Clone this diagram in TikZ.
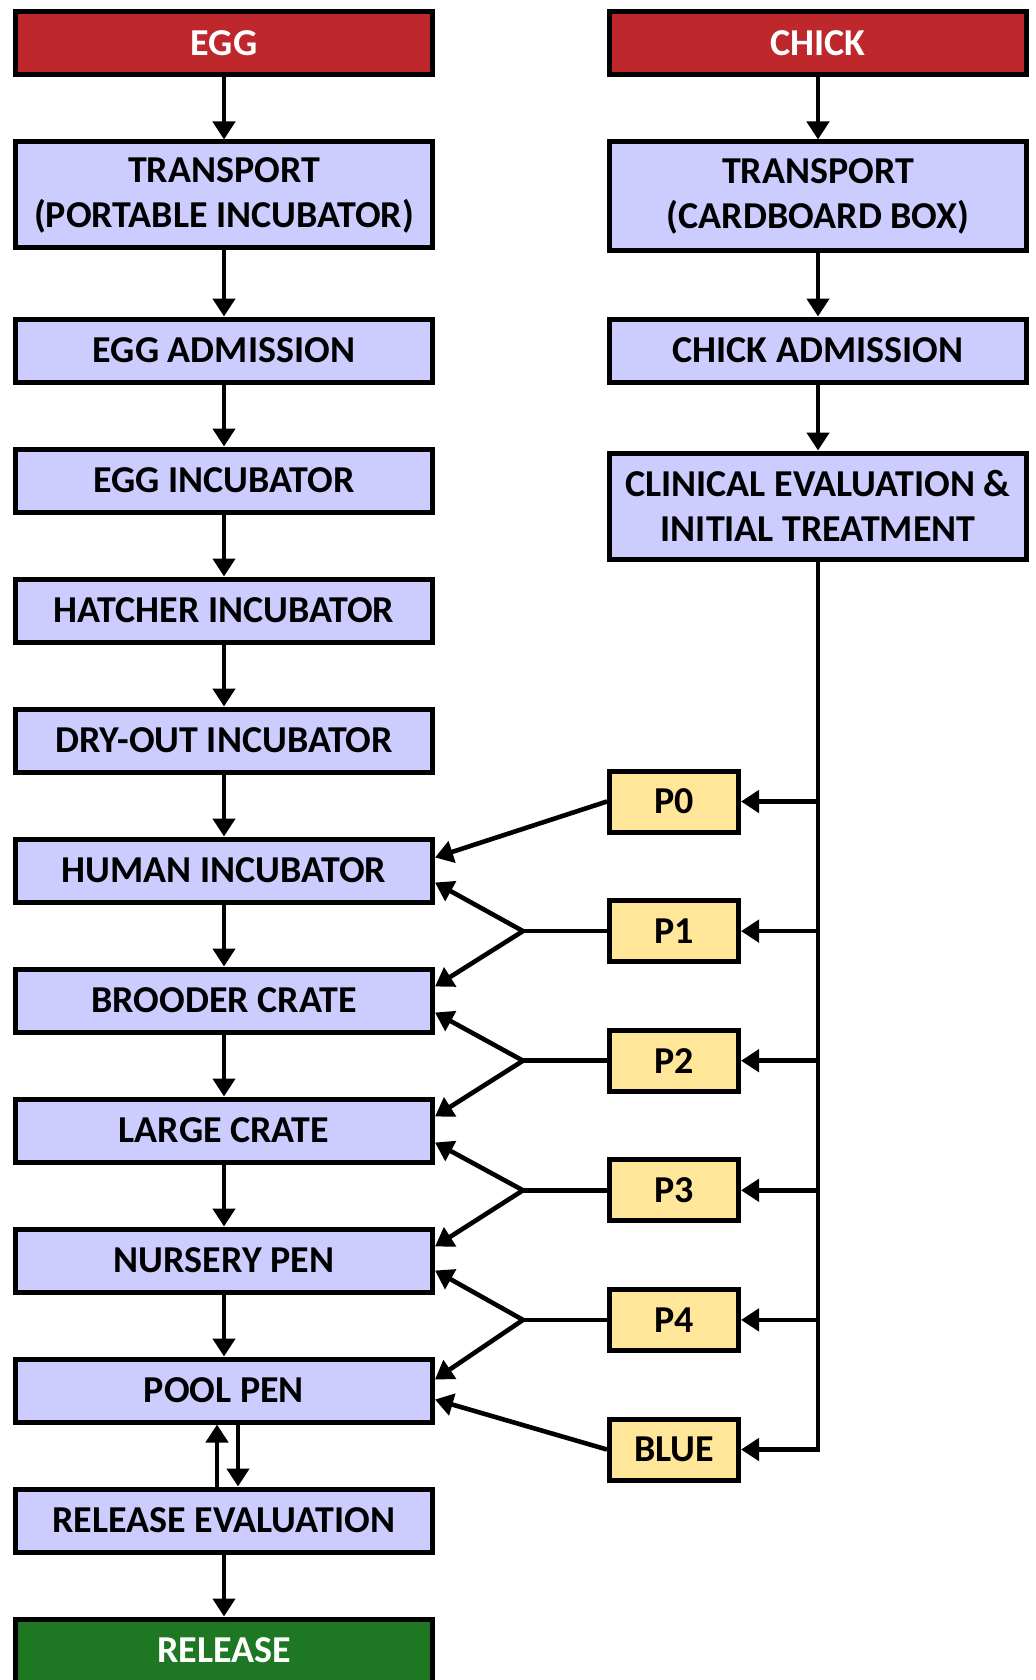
\documentclass[tikz,border=0pt]{standalone}
\usepackage{fontspec}
\setmainfont{Carlito}
\usetikzlibrary{arrows.meta,positioning,calc}
\definecolor{headred}{HTML}{BE282D}
\definecolor{stagefill}{HTML}{CCCCFF}
\definecolor{prioyellow}{HTML}{FFE699}
\definecolor{relgreen}{HTML}{1E7823}
\tikzset{
  stagebox/.style={draw,line width=2.5pt,fill=stagefill,minimum width=208.5pt,minimum height=31.5pt,
    align=center,font=\fontsize{19}{22.5}\selectfont\bfseries},
  headbox/.style={stagebox,fill=headred,text=white},
  endbox/.style={stagebox,fill=relgreen,text=white},
  pbox/.style={stagebox,fill=prioyellow,minimum width=64.5pt,minimum height=30.5pt},
  flow/.style={line width=2.3pt,-{Triangle[length=9pt,width=11pt]}},
}

\begin{document}
\begin{tikzpicture}[node distance=31pt]
  \useasboundingbox (0,0) rectangle (518pt,-840pt);
  % egg track
  \node[headbox] (egg) at (112pt,-21.75pt) {EGG};
  \node[stagebox,below=of egg,minimum height=53pt] (eggtrans) {TRANSPORT\\(PORTABLE INCUBATOR)};
  \node[stagebox,below=33pt of eggtrans] (eggadm) {EGG ADMISSION};
  \node[stagebox,below=of eggadm] (egginc) {EGG INCUBATOR};
  \node[stagebox,below=of egginc] (hatcher) {HATCHER INCUBATOR};
  \node[stagebox,below=of hatcher] (dryout) {DRY-OUT INCUBATOR};
  \node[stagebox,below=of dryout] (humaninc) {HUMAN INCUBATOR};
  \node[stagebox,below=of humaninc] (brooder) {BROODER CRATE};
  \node[stagebox,below=of brooder] (largecrate) {LARGE CRATE};
  \node[stagebox,below=of largecrate] (nursery) {NURSERY PEN};
  \node[stagebox,below=of nursery] (pool) {POOL PEN};
  \node[stagebox,below=of pool] (releval) {RELEASE EVALUATION};
  \node[endbox,below=of releval] (release) {RELEASE};
  % chick track
  \node[headbox,right=86pt of egg] (chick) {CHICK};
  \node[stagebox,below=of chick,minimum height=54.5pt] (chicktrans) {TRANSPORT\\(CARDBOARD BOX)};
  \node[stagebox,below=31.5pt of chicktrans] (chickadm) {CHICK ADMISSION};
  \node[stagebox,below=33pt of chickadm,minimum height=53pt] (clinical) {CLINICAL EVALUATION \&\\INITIAL TREATMENT};
  % placement boxes
  \coordinate (pmid) at ($(dryout.east)!0.5!(humaninc.east)$);
  \node[pbox,right=86pt of pmid,yshift=2pt] (p0) {P0};
  \node[pbox,below=31.8pt of p0] (p1) {P1};
  \node[pbox,below=31.8pt of p1] (p2) {P2};
  \node[pbox,below=31.8pt of p2] (p3) {P3};
  \node[pbox,below=31.8pt of p3] (p4) {P4};
  \node[pbox,below=31.8pt of p4] (blue) {BLUE};
  \coordinate[left=42pt of p1.west] (b1);
  \coordinate[left=42pt of p2.west] (b2);
  \coordinate[left=42pt of p3.west] (b3);
  \coordinate[left=42pt of p4.west] (b4);
  \coordinate (t0) at (clinical.south |- p0.east);
  \coordinate (t1) at (clinical.south |- p1.east);
  \coordinate (t2) at (clinical.south |- p2.east);
  \coordinate (t3) at (clinical.south |- p3.east);
  \coordinate (t4) at (clinical.south |- p4.east);

  \draw[flow] (egg) -- (eggtrans);
  \draw[flow] (eggtrans) -- (eggadm);
  \draw[flow] (eggadm) -- (egginc);
  \draw[flow] (egginc) -- (hatcher);
  \draw[flow] (hatcher) -- (dryout);
  \draw[flow] (dryout) -- (humaninc);
  \draw[flow] (humaninc) -- (brooder);
  \draw[flow] (brooder) -- (largecrate);
  \draw[flow] (largecrate) -- (nursery);
  \draw[flow] (nursery) -- (pool);
  \draw[flow] ([xshift=7pt]pool.south) -- ([xshift=7pt]releval.north);
  \draw[flow] ([xshift=-3.5pt]releval.north) -- ([xshift=-3.5pt]pool.south);
  \draw[flow] (releval) -- (release);

  \draw[flow] (chick) -- (chicktrans);
  \draw[flow] (chicktrans) -- (chickadm);
  \draw[flow] (chickadm) -- (clinical);
  \draw[flow] (clinical.south) |- (blue);
  \draw[flow] (t0) -- (p0);
  \draw[flow] (t1) -- (p1);
  \draw[flow] (t2) -- (p2);
  \draw[flow] (t3) -- (p3);
  \draw[flow] (t4) -- (p4);

  \draw[flow] (p0.west) -- ([yshift=6.5pt]humaninc.east);
  \draw[line width=2.3pt] (p1.west) -- (b1);
  \draw[flow] (b1) -- ([yshift=-6pt]humaninc.east);
  \draw[flow] (b1) -- ([yshift=7pt]brooder.east);
  \draw[line width=2.3pt] (p2.west) -- (b2);
  \draw[flow] (b2) -- ([yshift=-6pt]brooder.east);
  \draw[flow] (b2) -- ([yshift=7pt]largecrate.east);
  \draw[line width=2.3pt] (p3.west) -- (b3);
  \draw[flow] (b3) -- ([yshift=-6pt]largecrate.east);
  \draw[flow] (b3) -- ([yshift=7pt]nursery.east);
  \draw[line width=2.3pt] (p4.west) -- (b4);
  \draw[flow] (b4) -- ([yshift=-5pt]nursery.east);
  \draw[flow] (b4) -- ([yshift=5.5pt]pool.east);
  \draw[flow] (blue.west) -- ([yshift=-4.5pt]pool.east);
\end{tikzpicture}
\end{document}
